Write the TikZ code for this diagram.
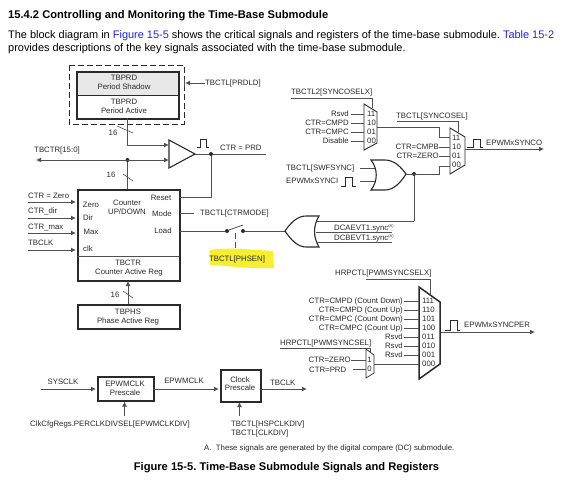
\documentclass[tikz,border=0pt]{standalone}
\usepackage{fontspec}
\setmainfont{Liberation Sans}
\usetikzlibrary{arrows.meta}
\definecolor{ink}{HTML}{2A2A2A}
\definecolor{wire}{HTML}{505050}
\definecolor{linkblue}{HTML}{2222EE}
\definecolor{marker}{HTML}{F6EE2E}
\frenchspacing
\tikzset{
  txt/.style={inner sep=0,text height=0.72em,text depth=0.2em,text=ink,font=\fontsize{7.8}{8}\selectfont},
  lab/.style={txt,anchor=west},
  rlab/.style={txt,anchor=east},
  clab/.style={txt,anchor=center},
  wireline/.style={draw=wire,line width=1pt},
  arr/.style={wireline,-{Latex[length=5pt,width=5pt]}},
  heavy/.style={draw=ink,line width=1.5pt},
  reg/.style={draw=ink,line width=1.5pt,inner sep=0,anchor=north west},
  muxshape/.style={draw=ink,line width=0.9pt,fill=white},
  dotnode/.style={circle,fill=ink,inner sep=0,minimum size=4pt},
  tick/.style={draw=wire,line width=0.6pt},
  pulse/.style={draw=ink,line width=0.7pt},
  para/.style={inner sep=0,anchor=west,text=black,text height=0.72em,text depth=0.2em,font=\fontsize{10.95}{12}\selectfont},
  boldtxt/.style={inner sep=0,text=black,text height=0.72em,text depth=0.2em,font=\fontsize{11.15}{12}\selectfont\bfseries},
}
\begin{document}
\begin{tikzpicture}[x=1pt,y=-1pt]
\useasboundingbox (0,0) rectangle (567,480);
\fill[white] (0,0) rectangle (567,480);
% heading and paragraph
\node[boldtxt,anchor=west] (title) at (8,16) {15.4.2 Controlling and Monitoring the Time-Base Submodule};
\node[para] (p1) at (8,36) {The block diagram in \textcolor{linkblue}{Figure 15-5} shows the critical signals and registers of the time-base submodule. \textcolor{linkblue}{Table 15-2}};
\node[para] (p2) at (8,49) {provides descriptions of the key signals associated with the time-base submodule.};
% highlight
\fill[marker] (210,250) .. controls (230,247) and (255,250) .. (273,251) -- (274,268) .. controls (250,269) and (230,266) .. (210,265) -- cycle;
% TBPRD
\draw[heavy,line width=1pt,dash pattern=on 6pt off 3pt] (69,65) rectangle (184,124);
\node[reg,minimum width=102pt,minimum height=23.5pt,fill=black!9] (shadow) at (76,71) {};
\node[reg,minimum width=102pt,minimum height=23.5pt] (active) at (76,94.5) {};
\node[clab] (s1) at (124,78) {TBPRD};
\node[clab] (s2) at (124,87) {Period Shadow};
\node[clab] (a1) at (124,102) {TBPRD};
\node[clab] (a2) at (124,111) {Period Active};
\node[lab] (prdld) at (205,83) {TBCTL[PRDLD]};
\coordinate (dashE) at (185,83);
\draw[arr] (prdld.west) -- (dashE);
\draw[wire,line width=0.8pt] (184.5,79) -- (184.5,87);
% comparator
\coordinate (cmpA) at (169,145);
\coordinate (cmpB) at (169,160);
\coordinate (cmpO) at (195,154);
\draw[draw=ink,line width=1.1pt,fill=white] (169,140) -- (195,154) -- (169,168) -- cycle;
\coordinate (activeS) at (127.5,118);
\draw[arr] (activeS) -- (127.5,145) -- (cmpA);
\draw[tick] (117,126) -- (133,133);
\node[clab] (n16a) at (113,133) {16};
\coordinate (tbctrL) at (36,160);
\node[dotnode] (busdot) at (127.5,160) {};
\draw[wireline,{Latex[length=5pt,width=5pt]}-{Latex[length=5pt,width=5pt]}] (tbctrL) -- (cmpB);
\node[clab] (tbctr) at (57,150) {TBCTR[15:0]};
\draw[tick] (123,174) -- (133,181);
\node[clab] (n16b) at (111,175) {16};
\draw[pulse] (197,147) -- (200,147) -- (200,139) -- (206,139) -- (206,147) -- (209,147);
\node[lab] (ctrprd) at (220,148) {CTR = PRD};
\coordinate (prdE) at (266,154);
\draw[wireline] (cmpO) -- (prdE);
\node[dotnode] (prddot) at (211,154) {};
% counter
\node[reg,minimum width=102pt,minimum height=91pt] (counter) at (77,189) {};
\draw[wire,line width=1pt] (77,256) -- (179,256);
\draw[wireline] (busdot) -- (127.5,189);
\node[clab] (zero) at (91,205) {Zero};
\node[clab] (dir) at (88,218) {Dir};
\node[clab] (max) at (91,232) {Max};
\node[clab] (clk) at (88,249) {clk};
\node[clab] (c1) at (127,203) {Counter};
\node[clab] (c2) at (127,212) {UP/DOWN};
\node[clab] (reset) at (161,198) {Reset};
\node[clab] (mode) at (162,214) {Mode};
\node[clab] (load) at (163,231) {Load};
\node[clab] (c3) at (128,263) {TBCTR};
\node[clab] (c4) at (129,272) {Counter Active Reg};
\draw[wireline] (179,197) -- (211,197) -- (prddot);
\foreach \t/\n/\ty/\ly in {CTR = Zero/a/196/202,CTR\_dir/b/211/218,CTR\_max/c/227/233,TBCLK/d/243/250}{
  \node[lab] (in\n) at (28,\ty) {\t};
  \coordinate (st\n) at (28,\ly);
  \draw[arr] (st\n) -- (76,\ly);
}
\node[lab] (ctrmode) at (200,213) {TBCTL[CTRMODE]};
\coordinate (modeE) at (180,213);
\draw[wireline] (modeE) -- (194,213);
% TBPHS
\node[reg,minimum width=102pt,minimum height=24pt] (tbphs) at (77,304) {};
\node[clab] (ph1) at (128,312) {TBPHS};
\node[clab] (ph2) at (128,321) {Phase Active Reg};
\draw[arr] (128,304) -- (128,281);
\draw[tick] (123,291) -- (133,298);
\node[clab] (n16c) at (115,295) {16};
% switch
\node[dotnode] (sw1) at (227,231) {};
\node[dotnode] (sw2) at (243,231) {};
\draw[wireline] (179,231) -- (sw1);
\draw[wire,line width=0.8pt] (229,230) -- (243,225);
\draw[wire,line width=0.7pt,dash pattern=on 6pt off 3pt] (235,233) -- (235,250);
\node[clab] (phsen) at (237,259) {TBCTL[PHSEN]};
\coordinate (or1tip) at (285,231);
\draw[wireline] (sw2) -- (or1tip);
% DC OR gate
\draw[draw=ink,line width=1.1pt,fill=white] (285,231) .. controls (291,222) and (298,216) .. (306,216) -- (319,216) .. controls (313,226) and (313,237) .. (319,247) -- (306,247) .. controls (298,247) and (291,240) .. (285,231) -- cycle;
\draw[wireline] (317,221) -- (414,221);
\draw[wireline] (315.5,232) -- (392,232);
\draw[wireline] (317,242) -- (392,242);
\node[lab] (dca) at (334,228) {DCAEVT1.sync\textsuperscript{\fontsize{4}{4}\selectfont(A)}};
\node[lab] (dcb) at (334,238) {DCBEVT1.sync\textsuperscript{\fontsize{4}{4}\selectfont(A)}};
% top mux 1
\node[lab] (selx) at (291,92) {TBCTL2[SYNCOSELX]};
\draw[wireline,line width=0.7pt] (291,98) -- (372,98) -- (372,108);
\draw[muxshape] (364,104) -- (377,112) -- (377,143) -- (364,150) -- cycle;
\foreach \t/\v/\y in {Rsvd/11/114,CTR=CMPD/10/123,CTR=CMPC/01/132,Disable/00/141}{
  \node[rlab] (t\v) at (349,\y) {\t};
  \node[lab] (v\v) at (367,\y) {\v};
  \draw[wireline] (351,\y) -- (364,\y);
}
% top mux 2
\node[lab] (sel) at (396,116) {TBCTL[SYNCOSEL]};
\draw[wireline,line width=0.7pt] (397,121) -- (458,121) -- (458,132);
\draw[muxshape] (450,128) -- (465,137) -- (465,165) -- (450,174) -- cycle;
\foreach \v/\y in {11/138,10/147,01/156,00/165}{\node[lab] (w\v) at (452,\y) {\v};}
\draw[wireline] (377,127) -- (439,127) -- (439,137) -- (450,137);
\node[rlab] (cmpb) at (439,147) {CTR=CMPB};
\node[rlab] (zero2) at (439,156) {CTR=ZERO};
\draw[wireline] (cmpb) -- (450,147);
\draw[wireline] (zero2) -- (450,156);
\draw[pulse] (467,147) -- (473,147) -- (473,139) -- (480,139) -- (480,147) -- (483,147);
\node[lab] (synco) at (486,143) {EPWMxSYNCO};
\coordinate (syncoE) at (544,149);
\draw[arr] (465,149) -- (syncoE);
% OR gate 2
\node[lab] (swf) at (286,168) {TBCTL[SWFSYNC]};
\node[lab] (synci) at (286,181) {EPWMxSYNCI};
\draw[pulse] (341,186) -- (345,186) -- (345,177) -- (352,177) -- (352,186) -- (356,186);
\draw[wireline] (360,168) -- (376,168);
\draw[wireline] (360,181) -- (376,181);
\draw[draw=ink,line width=1.1pt,fill=white] (371,160) -- (385,160) .. controls (394,160) and (401,167) .. (406,174) .. controls (401,182) and (394,190) .. (385,190) -- (371,190) .. controls (378,181) and (378,169) .. (371,160) -- cycle;
\node[dotnode] (ordot) at (414,174) {};
\draw[wireline] (406,174) -- (439,174) -- (439,166) -- (450,166);
\draw[wireline] (ordot) -- (414,221);
% lower mux
\node[lab] (pselx) at (335,273) {HRPCTL[PWMSYNCSELX]};
\draw[wireline,line width=0.7pt] (366,279) -- (430,279) -- (430,294);
\draw[heavy,fill=white] (419,287) -- (440,302) -- (440,364) -- (419,379) -- cycle;
\foreach \t/\v/\y in {CTR=CMPD (Count Down)/111/301,CTR=CMPD (Count Up)/110/310,CTR=CMPC (Count Down)/101/319,CTR=CMPC (Count Up)/100/328,Rsvd/011/337,Rsvd/010/346,Rsvd/001/355}{
  \node[rlab] (h\v) at (403,\y) {\t};
  \node[lab] (m\v) at (422,\y) {\v};
  \draw[wireline] (404,\y) -- (419,\y);
}
\node[lab] (m000) at (422,363.5) {000};
\draw[pulse] (445,330) -- (450,330) -- (450,320) -- (457,320) -- (457,330) -- (460,330);
\node[lab] (syncper) at (464,325) {EPWMxSYNCPER};
\coordinate (syncperE) at (535,332);
\draw[arr] (441,332) -- (syncperE);
% small mux
\node[lab] (psel) at (280,343) {HRPCTL[PWMSYNCSEL]};
\draw[wireline,line width=0.7pt] (280,348) -- (370,348) -- (370,352);
\draw[muxshape,line width=0.7pt] (366,349) -- (374,355) -- (374,373) -- (366,378) -- cycle;
\node[clab] (one) at (369.5,360) {1};
\node[clab] (zeroD) at (369.5,369) {0};
\node[rlab] (czero) at (351,360) {CTR=ZERO};
\node[lab] (cprd) at (309,370) {CTR=PRD};
\draw[wireline] (czero) -- (366,360);
\draw[wireline] (353,369) -- (366,369);
\draw[wireline] (374,364) -- (419,364);
% clocks
\node[clab] (sysclk) at (63,382) {SYSCLK};
\coordinate (sysS) at (41,389);
\node[reg,minimum width=56pt,minimum height=24pt] (eclk) at (97,376) {};
\node[clab] (e1) at (125,384) {EPWMCLK};
\node[clab] (e2) at (125,393) {Prescale};
\draw[arr] (sysS) -- (96,389);
\node[reg,minimum width=40pt,minimum height=32pt] (cpre) at (220,369) {};
\node[clab] (cp1) at (240,380) {Clock};
\node[clab] (cp2) at (240,388) {Prescale};
\draw[arr] (153,389) -- (219,389);
\node[clab] (eclkl) at (184,381) {EPWMCLK};
\node[lab] (tbclko) at (270,383) {TBCLK};
\coordinate (tbclkE) at (307,389);
\draw[arr] (260,389) -- (tbclkE);
\node[lab] (perclk) at (30,424) {ClkCfgRegs.PERCLKDIVSEL[EPWMCLKDIV]};
\node[lab] (hsp) at (231,424) {TBCTL[HSPCLKDIV]};
\node[lab] (cdiv) at (231,433) {TBCTL[CLKDIV]};
\coordinate (u1) at (124.5,416);
\coordinate (u2) at (239.5,416);
\draw[arr] (u1) -- (124.5,401.5);
\draw[arr] (u2) -- (239.5,402);
% footer
\node[lab] (note) at (204,448) {A.\ \ These signals are generated by the digital compare (DC) submodule.};
\node[boldtxt,anchor=center] (caption) at (286.5,468) {Figure 15-5. Time-Base Submodule Signals and Registers};
\end{tikzpicture}
\end{document}
